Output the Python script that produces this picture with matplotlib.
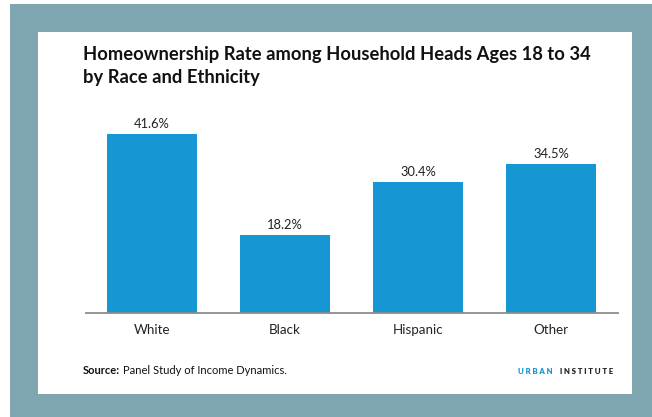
import matplotlib
matplotlib.use("Agg")
import matplotlib.pyplot as plt
from matplotlib.patches import Rectangle

categories = ["White", "Black", "Hispanic", "Other"]
values = [41.6, 18.2, 30.4, 34.5]
value_labels = ["41.6%", "18.2%", "30.4%", "34.5%"]

title = "Homeownership Rate among Household Heads Ages 18 to 34\nby Race and Ethnicity"

W, H = 652, 417
fig = plt.figure(figsize=(W / 100, H / 100), dpi=100)
fig.patch.set_facecolor("white")
plt.rcParams["font.family"] = ["Lato", "DejaVu Sans"]

def fx(x):
    return x / W

def fy(y):
    return 1 - y / H

teal = "#7fa5b0"
fig.add_artist(Rectangle((fx(10), 0), 1 - fx(10), fy(4), transform=fig.transFigure,
                         facecolor=teal, edgecolor="none", zorder=-2))
fig.add_artist(Rectangle((fx(38), fy(394)), fx(632 - 38), (394 - 32) / H,
                         transform=fig.transFigure, facecolor="white",
                         edgecolor="none", zorder=-1))

ax = fig.add_axes([fx(85.5), fy(313), fx(617.5 - 85.5), 45 * 4.31 / H])
ax.set_facecolor("none")
x = range(len(categories))
ax.bar(x, values, width=0.67, color="#1696d2", zorder=2)
ax.set_xlim(-0.5, len(categories) - 0.5)
ax.set_ylim(0, 45)
for xi, v, lab in zip(x, values, value_labels):
    ax.text(xi, v + 0.9, lab, ha="center", va="bottom", fontsize=9.3, color="#222222")
ax.set_xticks(list(x))
ax.set_xticklabels(categories, fontsize=9.6, color="#222222")
ax.tick_params(axis="x", length=0, pad=8)
ax.set_yticks([])
for s in ["top", "right", "left"]:
    ax.spines[s].set_visible(False)
ax.spines["bottom"].set_color("#8c8c8c")
ax.spines["bottom"].set_linewidth(1.3)

fig.text(fx(83), fy(46), title, ha="left", va="top", fontsize=13.2,
         fontweight="bold", color="#111111", linespacing=1.42)

src = fig.text(fx(83), fy(371), "Source:", ha="left", va="center", fontsize=8,
               fontweight="bold", color="#111111")
fig.canvas.draw()
bb = src.get_window_extent()
fig.text((bb.x1 + 3) / W, fy(371), "Panel Study of Income Dynamics.", ha="left",
         va="center", fontsize=8, color="#111111")

fig.text(fx(613), fy(372), "I N S T I T U T E", ha="right", va="center",
         fontsize=5.6, fontweight="heavy", color="#222222")
fig.text(fx(553), fy(372), "U R B A N", ha="right", va="center",
         fontsize=5.6, fontweight="heavy", color="#1696d2")

fig.savefig("out.png", dpi=100)
